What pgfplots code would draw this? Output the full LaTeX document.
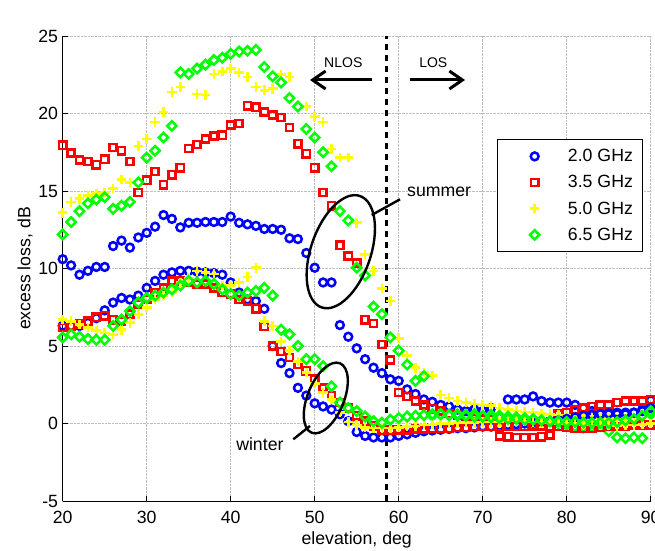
\documentclass[border=0pt]{standalone}
\usepackage{fontspec}
\setmainfont{Liberation Sans}
\usepackage{pgfplots}
\pgfplotsset{compat=1.18}
\usetikzlibrary{arrows.meta}
\newcommand{\f}{\fontsize{17.7}{21}\selectfont}
\newcommand{\fs}{\fontsize{14}{17}\selectfont}
\definecolor{mblue}{RGB}{0,0,255}
\definecolor{mred}{RGB}{255,0,0}
\definecolor{myel}{RGB}{255,255,0}
\definecolor{mgreen}{RGB}{0,255,0}
\pgfplotsset{
  mylegimg/.style={legend image code/.code={\path[draw=none,fill=none] (-28.7pt,-6pt) rectangle (33.3pt,6pt); \draw[mark repeat=2,mark phase=2,##1] plot coordinates {(-5pt,0pt)(0pt,0pt)(5pt,0pt)};}},
  pb/.style={only marks, color=mblue, mark=o, mark size=3.9pt, mark options={solid, line width=2.5pt}, mylegimg},
  pr/.style={only marks, color=mred, mark=square, mark size=3.6pt, mark options={solid, line width=2.5pt}, mylegimg},
  py/.style={only marks, color=myel, mark=+, mark size=4.8pt, mark options={solid, line width=2.6pt}, mylegimg},
  pg/.style={only marks, color=mgreen, mark=square, mark size=3.3pt, mark options={solid, rotate=45, line width=2.5pt}, mylegimg},
}
\begin{document}
\begin{tikzpicture}
\path[use as bounding box] (-62.7pt,-49pt) rectangle (592.3pt,501pt);
\begin{axis}[
  at={(0pt,0pt)}, anchor=south west,
  scale only axis, width=588pt, height=465pt,
  xmin=20, xmax=90, ymin=-5, ymax=25,
  xtick={20,30,...,90}, ytick={-5,0,...,25},
  axis x line*=bottom, axis y line*=left,
  clip=false,
  grid=major,
  major grid style={densely dotted, gray!50, line width=0.6pt},
  tick align=inside, major tick length=5pt,
  every tick/.style={black, line width=0.6pt},
  axis line style={black, line width=0.8pt},
  /pgf/number format/assume math mode=true,
  ticklabel style={font=\f},
  xticklabel style={anchor=north, inner sep=0pt, yshift=-10pt},
  yticklabel style={anchor=east, inner sep=0pt, xshift=-4.5pt},
  xlabel={elevation, deg}, ylabel={excess loss, dB},
  label style={font=\f},
  xlabel style={at={(axis description cs:0.5,-0.0839)}, anchor=center},
  ylabel style={at={(axis description cs:-0.0641,0.5)}, anchor=center},
  legend style={at={(0.9857,0.7778)}, anchor=north east, draw=black, line width=0.8pt,
    font=\f, inner xsep=9pt, inner ysep=9.7pt, row sep=12.3pt, column sep=0pt,
    nodes={inner sep=0pt}},
  legend cell align=left,
]
% ---- 2.0 GHz summer
\addplot[pb] coordinates {
(20,10.6)(21,10.2)(22,9.6)(23,9.85)(24,10.1)(25,10.1)(26,11.45)(27,11.8)(28,11.35)(29,12.0)
(30,12.3)(31,12.7)(32,13.45)(33,13.2)(34,12.65)(35,12.95)(36,12.95)(37,13.0)(38,13.0)(39,13.0)
(40,13.35)(41,12.95)(42,12.85)(43,12.75)(44,12.55)(45,12.55)(46,12.5)(47,11.95)(48,11.9)(49,11.0)
(50,10.05)(51,9.1)(52,9.1)(53,6.35)(54,5.6)(55,4.85)(56,4.15)(57,3.6)(58,3.25)(59,2.85)
(60,2.75)(61,2.2)(62,1.9)(63,1.55)(64,1.4)(65,1.2)(66,1.1)(67,0.9)(68,0.8)(69,0.9)
(70,0.8)(71,1.0)(73,1.55)(74,1.55)(75,1.55)(76,1.75)(77,1.45)(78,1.35)(79,1.35)(80,1.35)
(81,1.2)(82,1.0)(83,0.8)(84,0.7)(85,0.6)(86,0.6)(87,0.6)(88,0.7)(89,0.9)(90,1.5)
};
\addlegendentry{2.0 GHz}
% ---- 3.5 GHz summer
\addplot[pr] coordinates {
(20,17.95)(21,17.45)(22,17.0)(23,16.9)(24,16.7)(25,17.05)(26,17.8)(27,17.6)(28,16.9)(29,14.9)
(30,15.7)(31,16.25)(32,15.4)(33,16.05)(34,16.5)(35,17.75)(36,18.0)(37,18.35)(38,18.55)(39,18.6)
(40,19.25)(41,19.35)(42,20.5)(43,20.4)(44,20.1)(45,19.9)(46,19.75)(47,19.1)(48,18.05)(49,17.4)
(50,16.5)(51,14.9)(52,14.05)(53,11.5)(54,10.8)(55,10.35)(56,6.7)(57,6.45)(58,5.1)(59,4.1)
(60,2.0)(61,1.75)(62,1.45)(63,1.2)(64,0.95)(65,0.8)(66,0.65)(67,0.55)(68,0.45)(69,0.35)
(70,0.3)(71,0.25)(72,-0.8)(73,-0.85)(74,-0.9)(75,-0.9)(76,-0.9)(77,-0.85)(78,-0.75)(79,0.6)
(80,0.7)(81,0.9)(82,1.0)(83,1.1)(84,1.2)(85,1.2)(86,1.35)(87,1.45)(88,1.45)(89,1.45)(90,1.55)
};
\addlegendentry{3.5 GHz}
% ---- 5.0 GHz summer
\addplot[py] coordinates {
(20,13.6)(21,14.3)(22,14.5)(23,14.7)(24,14.85)(25,14.9)(26,15.15)(27,15.75)(28,15.55)(29,17.9)
(30,18.35)(31,19.45)(32,20.1)(33,21.4)(34,21.7)(36,21.25)(37,21.2)(38,22.55)(39,22.7)
(40,22.9)(41,22.65)(42,22.35)(43,21.7)(44,21.5)(45,21.6)(46,22.5)(47,22.35)(49,20.45)
(50,19.8)(51,19.45)(52,17.7)(53,17.15)(54,17.15)(55,12.95)(56,10.9)(57,9.85)(58,8.7)(59,7.9)
(60,5.5)(61,4.4)(62,3.6)(63,3.3)(64,3.1)(65,1.85)(66,1.65)(67,1.45)(68,1.35)(69,1.25)
(70,1.2)(71,1.15)(72,1.0)(73,0.9)(74,0.8)(75,0.75)(76,0.7)(77,0.65)(78,0.6)(79,0.55)
(80,0.5)(81,0.5)(82,0.5)(83,0.45)(84,0.4)(85,0.35)(86,0.3)(87,0.3)(88,0.2)(89,0.1)(90,0.0)
};
\addlegendentry{5.0 GHz}
% ---- 6.5 GHz summer
\addplot[pg] coordinates {
(20,12.2)(21,13.0)(22,13.7)(23,14.2)(24,14.45)(25,14.6)(26,13.85)(27,14.05)(28,14.3)(29,15.55)
(30,17.15)(31,17.6)(32,18.45)(33,19.2)(34,22.65)(35,22.55)(36,22.9)(37,23.15)(38,23.45)(39,23.6)
(40,23.85)(41,24.0)(42,24.05)(43,24.1)(44,23.0)(45,22.4)(46,22.0)(47,21.0)(48,20.45)(49,19.0)
(50,18.45)(51,17.5)(52,16.6)(53,13.7)(54,13.1)(55,10.05)(56,9.55)(57,7.55)(58,7.05)(59,5.55)
(60,4.7)(61,3.8)(62,2.75)(63,3.05)(64,0.5)(65,0.6)(66,0.55)(67,0.6)(68,0.55)(69,0.6)
(70,0.5)(71,0.55)(72,0.5)(73,0.45)(74,0.4)(75,0.35)(76,0.3)(77,0.2)(78,0.1)(79,0.0)
(80,-0.1)(81,-0.2)(82,-0.25)(83,-0.2)(84,-0.15)(85,-0.5)(86,-0.9)(87,-0.95)(88,-0.9)(89,-0.95)(90,0.6)
};
\addlegendentry{6.5 GHz}
% ---- winter series
\addplot[pb, forget plot] coordinates {
(20,6.3)(21,6.3)(22,6.3)(23,6.5)(24,6.8)(25,7.3)(26,7.8)(27,8.1)(28,8.0)(29,8.25)
(30,8.75)(31,9.2)(32,9.6)(33,9.75)(34,9.85)(35,9.85)(36,9.8)(37,9.75)(38,9.7)(39,9.6)
(40,9.1)(41,8.45)(42,8.0)(43,7.9)(44,7.4)(45,5.0)(46,3.9)(47,3.25)(48,2.3)(49,1.8)
(50,1.3)(51,1.1)(52,0.9)(53,0.6)(54,0.15)(55,-0.55)(56,-0.8)(57,-0.9)(58,-0.9)(59,-0.9)
(60,-0.8)(61,-0.7)(62,-0.6)(63,-0.5)(64,-0.45)(65,-0.4)(66,-0.35)(67,-0.3)(68,-0.3)(69,-0.25)
(70,-0.2)(71,-0.2)(72,-0.15)(73,-0.1)(74,-0.05)(75,0.0)(76,0.05)(77,0.1)(78,0.15)(79,0.2)
(80,0.3)(81,0.4)(82,0.5)(83,0.55)(84,0.6)(85,0.65)(86,0.7)(87,0.7)(88,0.7)(89,0.8)(90,1.0)
};
\addplot[pr, forget plot] coordinates {
(20,6.2)(21,6.3)(22,6.4)(23,6.6)(24,6.85)(25,6.95)(26,6.7)(27,6.6)(28,7.05)(29,7.7)
(30,8.0)(31,8.45)(32,8.75)(33,9.2)(34,9.2)(35,9.1)(36,9.0)(37,9.0)(38,8.75)(39,8.45)
(40,8.35)(41,8.0)(42,7.9)(43,7.4)(44,6.25)(45,5.0)(46,4.65)(47,4.25)(48,3.8)(49,3.4)
(50,2.85)(51,2.3)(52,1.8)(53,1.35)(54,1.0)(55,0.5)(56,0.15)(57,-0.15)(58,-0.4)(59,-0.4)
(60,-0.4)(61,-0.4)(62,-0.35)(63,-0.35)(64,-0.3)(65,-0.3)(66,-0.3)(67,-0.25)(68,-0.25)(69,-0.2)
(70,-0.2)(71,-0.2)(72,-0.2)(73,-0.2)(74,-0.2)(75,-0.2)(76,-0.15)(77,-0.15)(78,-0.2)(79,-0.2)
(80,-0.25)(81,-0.3)(82,-0.3)(83,-0.3)(84,-0.25)(85,-0.2)(86,-0.2)(87,-0.15)(88,-0.1)(89,-0.1)(90,-0.1)
};
\addplot[py, forget plot] coordinates {
(20,6.7)(21,6.6)(22,6.4)(23,6.2)(24,6.0)(25,5.85)(26,5.75)(27,6.05)(28,6.5)(29,7.05)
(30,7.5)(31,8.0)(32,8.25)(33,8.45)(34,9.1)(35,9.4)(36,9.85)(37,9.75)(38,9.65)(39,8.9)
(40,8.9)(41,9.1)(42,9.45)(43,10.05)(44,6.6)(45,6.3)(46,5.3)(47,4.7)(48,4.0)(49,3.3)
(50,2.6)(51,2.0)(52,1.55)(53,0.7)(54,0.1)(55,-0.1)(56,-0.25)(57,-0.3)(58,-0.3)(59,-0.3)
(60,-0.25)(61,-0.2)(62,-0.15)(63,-0.1)(64,-0.05)(65,0.0)(66,0.0)(67,0.05)(68,0.05)(69,0.05)
(70,0.1)(71,0.1)(72,0.1)(73,0.15)(74,0.15)(75,0.15)(76,0.1)(77,0.1)(78,0.05)(79,0.0)
(80,0.0)(81,0.0)(82,-0.05)(83,-0.1)(84,-0.1)(85,-0.1)(86,-0.15)(87,-0.1)(88,-0.1)(89,-0.05)(90,0.0)
};
\addplot[pg, forget plot] coordinates {
(20,5.55)(21,5.75)(22,5.6)(23,5.45)(24,5.4)(25,5.4)(26,6.3)(27,6.7)(28,7.25)(29,7.8)
(30,8.1)(31,8.25)(32,8.45)(33,8.65)(34,8.9)(35,9.2)(36,9.1)(37,9.2)(38,9.0)(39,8.65)
(40,8.35)(41,8.25)(42,8.45)(43,8.55)(44,8.75)(45,8.25)(46,6.05)(47,5.75)(48,5.0)(49,4.15)
(50,4.15)(51,3.7)(52,2.4)(53,1.35)(54,1.0)(55,0.8)(56,0.45)(57,0.15)(58,0.05)(59,0.25)
(60,0.35)(61,0.45)(62,0.5)(63,0.55)(64,0.6)(65,0.6)(66,0.55)(67,0.5)(68,0.5)(69,0.45)
(70,0.45)(71,0.4)(72,0.35)(73,0.3)(74,0.3)(75,0.25)(76,0.25)(77,0.2)(78,0.15)(79,0.15)
(80,0.1)(81,0.1)(82,0.05)(83,0.05)(84,0.05)(85,0.05)(86,0.1)(87,0.2)(88,0.3)(89,0.5)(90,0.8)
};
% NLOS / LOS boundary
\addplot[forget plot, black, line width=3pt, dash pattern=on 6pt off 5pt] coordinates {(58.6,-5)(58.6,25)};
\end{axis}
% annotations (pt, origin = lower-left of plot area)
\node[font=\fs] at (280.6pt,438.3pt) {NLOS};
\node[font=\fs] at (370.6pt,438.3pt) {LOS};
\draw[line width=3pt, -{Straight Barb[length=13pt,width=18pt]}] (309pt,421pt) -- (247.3pt,421pt);
\draw[line width=3pt, -{Straight Barb[length=13pt,width=18pt]}] (347.3pt,421pt) -- (402.3pt,421pt);
\draw[line width=2.4pt, rotate around={71:(278.1pt,249.3pt)}] (278.1pt,249.3pt) ellipse [x radius=58.9pt, y radius=29.9pt];
\draw[line width=2.4pt] (309pt,286pt) -- (337.3pt,301.7pt);
\node[font=\f, anchor=west, inner sep=0pt] at (344.3pt,309pt) {summer};
\draw[line width=2.4pt, rotate around={67.8:(263.1pt,103pt)}] (263.1pt,103pt) ellipse [x radius=37.5pt, y radius=18.2pt];
\draw[line width=2.4pt] (247.3pt,75pt) -- (230.6pt,61.7pt);
\node[font=\f, anchor=east, inner sep=0pt] at (221pt,57pt) {winter};
\end{tikzpicture}
\end{document}
